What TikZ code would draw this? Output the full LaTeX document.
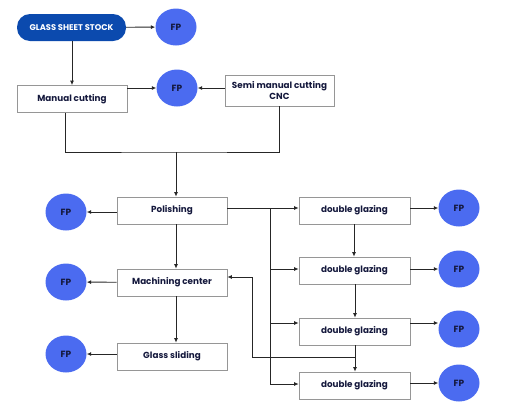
\documentclass[tikz,border=0pt]{standalone}
\usepackage{fontspec}
\setmainfont{Poppins}
\usepackage{tikz}
\usetikzlibrary{shapes,arrows.meta,positioning,calc}
\definecolor{stockblue}{RGB}{11,74,174}
\definecolor{fpblue}{RGB}{75,107,240}
\definecolor{fptext}{RGB}{20,24,60}
\definecolor{boxline}{RGB}{150,150,150}
\tikzset{
  fp/.style={ellipse,fill=fpblue,minimum width=41pt,minimum height=37pt,inner sep=0pt,text=fptext,font=\bfseries\fontsize{9}{10}\selectfont},
  stepbox/.style={draw=boxline,line width=0.6pt,minimum width=110pt,minimum height=27pt,inner sep=1pt,align=center,text=fptext,font=\bfseries\fontsize{8.8}{11.5}\selectfont},
  stock/.style={rounded corners=13pt,fill=stockblue,minimum width=109pt,minimum height=27pt,inner sep=0pt,text=white,font=\bfseries\fontsize{8.3}{9}\selectfont},
  link/.style={line width=0.9pt,draw=black!85,-{Latex[length=4.5pt,width=4pt]}},
  wire/.style={line width=0.9pt,draw=black!85}
}
\begin{document}
\begin{tikzpicture}[x=1pt,y=-1pt]
\useasboundingbox (0,0) rectangle (532,408);

%Nodes: top
\node[stock] (stock) at (71.5,27.5) {GLASS SHEET STOCK};
\node[fp] (fptop) at (176,27) {FP};
\node[stepbox] (manual) at (72,99) {Manual cutting};
\node[fp] (fpcut) at (177,88) {FP};
\node[stepbox,minimum width=109pt,minimum height=31pt] (semi) at (279.5,90.5) {Semi manual cutting\\CNC};

%Nodes: left column
\node[stepbox] (polish) at (172,210.5) {Polishing};
\node[fp] (fppolish) at (66,212) {FP};
\node[stepbox] (machining) at (172,282.5) {Machining center};
\node[fp] (fpmachining) at (66,282) {FP};
\node[stepbox] (sliding) at (172,356.5) {Glass sliding};
\node[fp] (fpsliding) at (66,354) {FP};

%Nodes: double glazing
\node[stepbox,minimum width=111pt] (dgA) at (354.5,210.5) {double glazing};
\node[fp] (fpA) at (459,208) {FP};
\node[stepbox,minimum width=111pt] (dgB) at (354.5,270.5) {double glazing};
\node[fp] (fpB) at (459,269) {FP};
\node[stepbox,minimum width=111pt] (dgC) at (354.5,331.5) {double glazing};
\node[fp] (fpC) at (459,329) {FP};
\node[stepbox,minimum width=111pt] (dgD) at (354.5,385.5) {double glazing};
\node[fp] (fpD) at (459,383) {FP};

%Coordinates
\coordinate (merge) at (176,152);
\coordinate (bus) at (270,208);
\coordinate (ret) at (355,357);

%Connectors: top
\draw[link] (stock) -- (fptop);
\draw[link] (stock.south -| 72,0) -- (manual.north -| 72,0);
\draw[link] (manual.east |- fpcut) -- (fpcut);
\draw[link] (semi.west |- fpcut) -- (fpcut);
\draw[wire] (manual.south -| 65,0) |- (merge) -| (semi.south -| 279,0);
\draw[link] (merge) -- (polish.north -| merge);

%Connectors: left column
\draw[link] (polish.west |- fppolish) -- (fppolish);
\draw[link] (polish.south -| 176,0) -- (machining.north -| 176,0);
\draw[link] (machining) -- (fpmachining);
\draw[link] (machining.south -| 176,0) -- (sliding.north -| 176,0);
\draw[link] (sliding.west |- fpsliding) -- (fpsliding);

%Connectors: double glazing
\draw[wire] (polish.east |- bus) -- (bus);
\draw[wire] (bus) -- (bus |- 0,384);
\draw[link] (bus) -- (dgA.west |- bus);
\draw[link] (bus |- 0,269) -- (dgB.west |- 0,269);
\draw[link] (bus |- 0,323) -- (dgC.west |- 0,323);
\draw[link] (bus |- 0,384) -- (dgD.west |- 0,384);
\draw[link] (dgA.east |- fpA) -- (fpA);
\draw[link] (dgB.east |- fpB) -- (fpB);
\draw[link] (dgC.east |- 0,323) -- (fpC.west |- 0,323);
\draw[link] (dgD.east |- fpD) -- (fpD);
\draw[link] (dgA.south -| 354,0) -- (dgB.north -| 354,0);
\draw[link] (dgB.south -| 355,0) -- (dgC.north -| 355,0);
\draw[link] (dgC.south -| 355,0) -- (dgD.north -| 355,0);
\draw[link] (ret) -| (252,277) -- (machining.east |- 0,277);

\end{tikzpicture}
\end{document}
